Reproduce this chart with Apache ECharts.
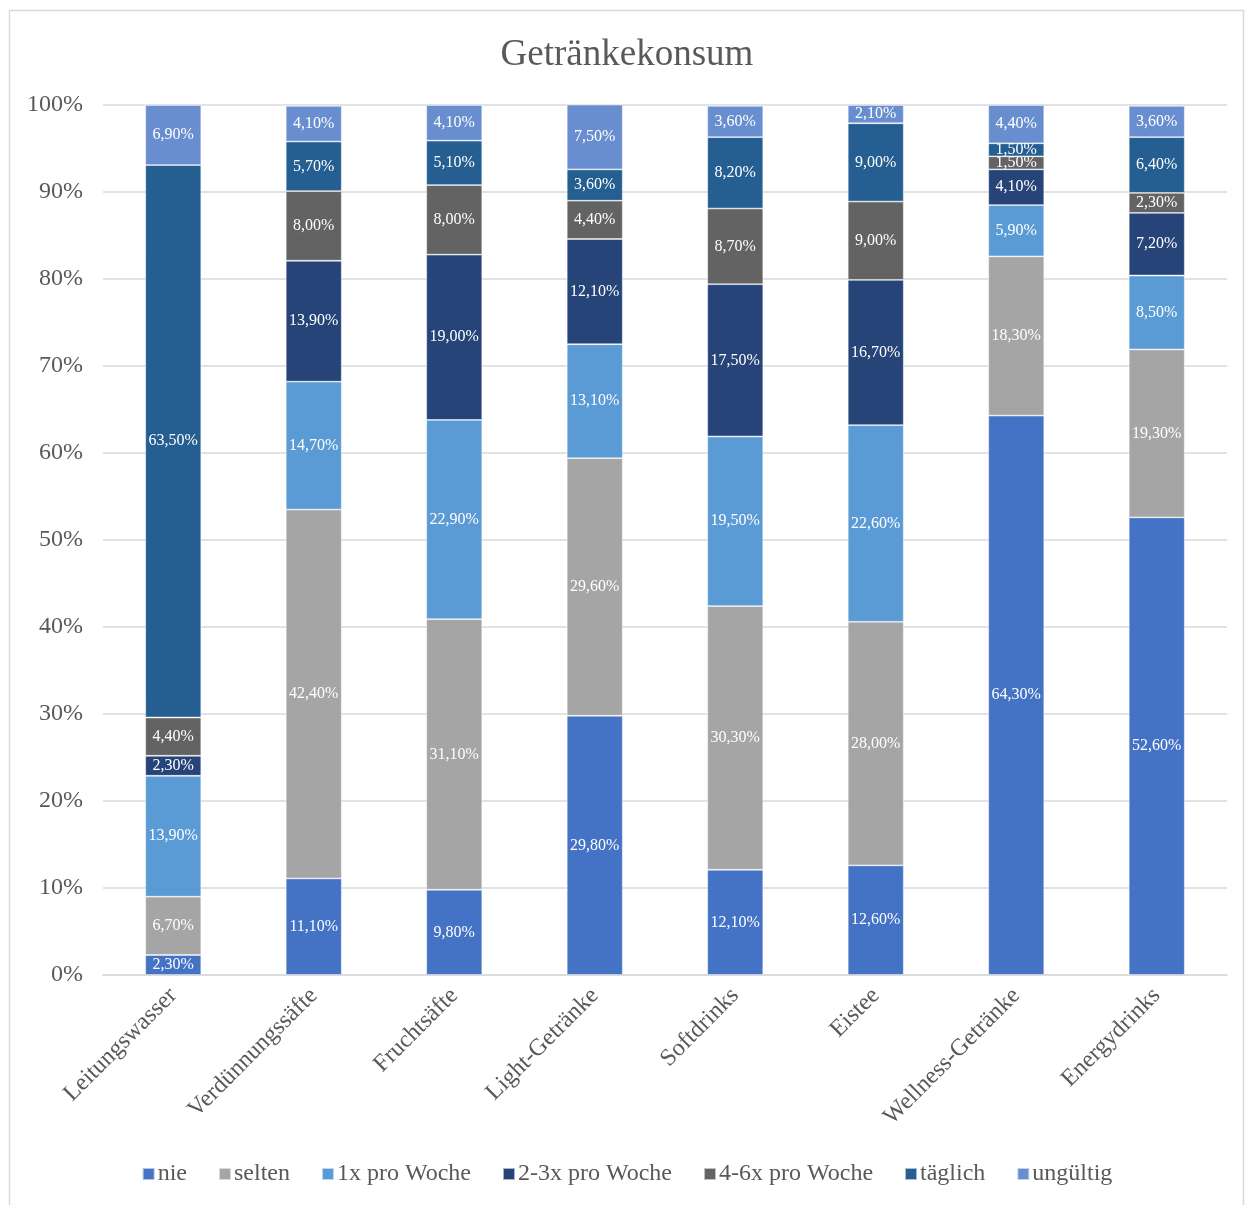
<!DOCTYPE html>
<html>
<head>
<meta charset="utf-8">
<script src="https://cdn.jsdelivr.net/npm/echarts@6/dist/echarts.min.js"></script>
<style>
  html, body { margin: 0; padding: 0; background: #fff; }
  #chart { width: 1254px; height: 1205px; }
</style>
</head>
<body>
<div id="chart"></div>
<script>
// Beverage consumption frequency per drink category (share of respondents, %)
const categories = ['Leitungswasser', 'Verdünnungssäfte', 'Fruchtsäfte', 'Light-Getränke',
  'Softdrinks', 'Eistee', 'Wellness-Getränke', 'Energydrinks'];

const seriesNames = ['nie', 'selten', '1x pro Woche', '2-3x pro Woche', '4-6x pro Woche', 'täglich', 'ungültig'];

const nie        = [2.3, 11.1, 9.8, 29.8, 12.1, 12.6, 64.3, 52.6];
const selten     = [6.7, 42.4, 31.1, 29.6, 30.3, 28.0, 18.3, 19.3];
const einmal     = [13.9, 14.7, 22.9, 13.1, 19.5, 22.6, 5.9, 8.5];
const zweiDrei   = [2.3, 13.9, 19.0, 12.1, 17.5, 16.7, 4.1, 7.2];
const vierSechs  = [4.4, 8.0, 8.0, 4.4, 8.7, 9.0, 1.5, 2.3];
const taeglich   = [63.5, 5.7, 5.1, 3.6, 8.2, 9.0, 1.5, 6.4];
const ungueltig  = [6.9, 4.1, 4.1, 7.5, 3.6, 2.1, 4.4, 3.6];

const yTicks = [0, 10, 20, 30, 40, 50, 60, 70, 80, 90, 100];

const seriesData = [nie, selten, einmal, zweiDrei, vierSechs, taeglich, ungueltig];
const colors = ['#4472C4', '#A5A5A5', '#5B9BD5', '#264478', '#636363', '#255E91', '#698ED0'];

const serif = '"Liberation Serif", "DejaVu Serif", serif';
const textGray = '#595959';

const chart = echarts.init(document.getElementById('chart'), null, { renderer: 'canvas' });

chart.setOption({
  animation: false,
  backgroundColor: '#ffffff',
  color: colors,
  title: {
    text: 'Getränkekonsum',
    left: 'center',
    top: 32,
    textStyle: { fontFamily: serif, fontSize: 37, fontWeight: 'normal', color: textGray }
  },
  graphic: [{
    type: 'rect',
    shape: { x: 9.5, y: 10.5, width: 1234, height: 1210 },
    style: { fill: 'none', stroke: '#d9d9d9', lineWidth: 1.5 },
    silent: true
  }],
  legend: {
    bottom: 14,
    left: 'center',
    itemWidth: 12,
    itemHeight: 12,
    itemGap: 31,
    icon: 'rect',
    textStyle: { fontFamily: serif, fontSize: 24, color: textGray, padding: [0, 0, 0, -2] },
    data: seriesNames
  },
  grid: { left: 103, right: 27, top: 105, bottom: 230 },
  xAxis: {
    type: 'category',
    data: categories,
    axisLine: { lineStyle: { color: '#d9d9d9', width: 1.5 } },
    axisTick: { show: false },
    axisLabel: {
      rotate: 45,
      interval: 0,
      margin: 17,
      fontFamily: serif,
      fontSize: 24,
      color: textGray
    }
  },
  yAxis: {
    type: 'value',
    min: 0,
    max: 100,
    interval: 10,
    axisLine: { show: false },
    axisTick: { show: false },
    splitLine: { lineStyle: { color: '#d9d9d9', width: 1.5 } },
    axisLabel: {
      margin: 20,
      fontFamily: serif,
      fontSize: 24,
      color: textGray,
      formatter: v => (yTicks.includes(v) ? v + '%' : '')
    }
  },
  series: seriesNames.map((name, i) => ({
    name: name,
    type: 'bar',
    stack: 'total',
    barWidth: 56,
    data: seriesData[i],
    itemStyle: { color: colors[i], borderColor: 'rgba(255,255,255,0.6)', borderWidth: 0.8 },
    label: {
      show: true,
      position: 'inside',
      fontFamily: serif,
      fontSize: 16,
      color: '#ffffff',
      formatter: p => p.value.toFixed(2).replace('.', ',') + '%'
    }
  }))
});
</script>
</body>
</html>
